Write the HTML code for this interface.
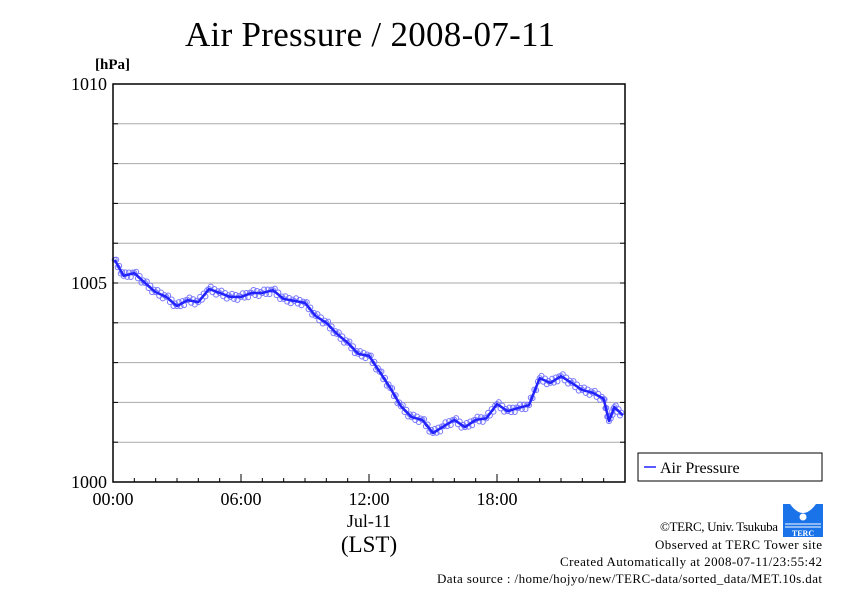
<!DOCTYPE html>
<html><head><meta charset="utf-8"><style>
body{margin:0;background:#fff;}
svg text{font-family:"Liberation Serif",serif;fill:#000;}
</style></head><body>
<svg width="842" height="595" xmlns="http://www.w3.org/2000/svg" id="chart">
<rect width="842" height="595" fill="#fff"/>
<text x="370" y="46" font-size="35" text-anchor="middle" textLength="370">Air Pressure / 2008-07-11</text>
<text x="95" y="69" font-size="15" font-weight="bold">[hPa]</text>
<g id="grid"></g>
<g id="yticks"></g>
<g id="xticks"></g>
<g id="series"></g>
<rect x="113" y="84" width="512" height="398" fill="none" stroke="#000" stroke-width="1.5"/>
<text x="369" y="527" font-size="18" text-anchor="middle">Jul-11</text>
<text x="369" y="552" font-size="23" text-anchor="middle">(LST)</text>
<g>
<rect x="638" y="453" width="184" height="28" fill="#fff" stroke="#000" stroke-width="1"/>
<line x1="644" y1="467" x2="656" y2="467" stroke="#22f" stroke-width="1.5"/>
<text x="660" y="473" font-size="16">Air Pressure</text>
</g>
<g>
<path d="M783 504 h40 v33 h-40 z" fill="#1a73e8"/>
<path d="M790 504 q13 18 26 0 z" fill="#fff"/>
<circle cx="803" cy="517" r="3.5" fill="#fff"/>
<line x1="785" y1="524" x2="821" y2="524" stroke="#fff"/>
<line x1="785" y1="527" x2="821" y2="527" stroke="#fff"/>
<text x="803" y="536" font-size="8" text-anchor="middle" style="fill:#fff;font-weight:bold">TERC</text>
</g>
<g font-size="13" text-anchor="end">
<text x="778" y="531" textLength="118">©TERC, Univ. Tsukuba</text>
<text x="822" y="549" textLength="167">Observed at TERC Tower site</text>
<text x="822" y="566" textLength="262">Created Automatically at 2008-07-11/23:55:42</text>
<text x="822" y="583" textLength="385">Data source : /home/hojyo/new/TERC-data/sorted_data/MET.10s.dat</text>
</g>
</svg>
<script>
const hours=[0.08,0.5,1,1.5,2,2.5,3,3.5,4,4.5,5,5.5,6,6.5,7,7.5,8,8.5,9,9.5,10,10.5,11,11.5,12,12.5,13,13.5,14,14.5,15,15.5,16,16.5,17,17.5,18,18.5,19,19.5,20,20.5,21,21.5,22,22.5,23,23.25,23.5,23.9];
const pressure=[1005.58,1005.18,1005.25,1005.0,1004.77,1004.65,1004.42,1004.57,1004.52,1004.85,1004.75,1004.65,1004.65,1004.75,1004.75,1004.82,1004.6,1004.55,1004.5,1004.17,1004.0,1003.72,1003.5,1003.22,1003.17,1002.77,1002.36,1001.9,1001.63,1001.56,1001.23,1001.4,1001.56,1001.38,1001.56,1001.6,1001.96,1001.78,1001.86,1001.93,1002.61,1002.49,1002.66,1002.49,1002.31,1002.24,1002.09,1001.53,1001.88,1001.68];
const yTicks=[1000,1005,1010];
const xTickHours=[0,6,12,18];
const xTickLabels=["00:00","06:00","12:00","18:00"];
const NS="http://www.w3.org/2000/svg";
const X0=113,X1=625,Y0=482,Y1=84;
function xs(h){return X0+(X1-X0)*h/24;}
function ys(v){return Y0-(Y0-Y1)*(v-1000)/10;}
function mk(t,a,p){const e=document.createElementNS(NS,t);for(const k in a)e.setAttribute(k,a[k]);p.appendChild(e);return e;}
const grid=document.getElementById('grid'),yt=document.getElementById('yticks'),xt=document.getElementById('xticks'),ser=document.getElementById('series');
for(let v=1001;v<1010;v++){
 const l=mk('line',{x1:X0,x2:X1,y1:ys(v),y2:ys(v),stroke:'#aaa','stroke-width':1},grid);
 
 
 mk('line',{x1:X0,x2:X0+5,y1:ys(v),y2:ys(v),stroke:'#000'},yt);
 mk('line',{x1:X1-5,x2:X1,y1:ys(v),y2:ys(v),stroke:'#000'},yt);
}
yTicks.forEach(v=>{
 const t=mk('text',{x:X0-6,y:ys(v)+6,'font-size':18,'text-anchor':'end'},yt);t.textContent=v;
 
 
});
for(let h=1;h<24;h++){mk('line',{x1:xs(h),x2:xs(h),y1:Y0,y2:Y0-(h%6?4:8),stroke:'#000'},xt);}
xTickHours.forEach((h,i)=>{
 const t=mk('text',{x:xs(h),y:505,'font-size':18,'text-anchor':'middle'},xt);t.textContent=xTickLabels[i];
 
 
});
const offs=[0,-3,2,-2,3,-1];
for(let i=0;i<hours.length-1;i++){
 for(let k=0;k<6;k++){
  const h=hours[i]+(hours[i+1]-hours[i])*k/6, v=pressure[i]+(pressure[i+1]-pressure[i])*k/6;
  mk('circle',{cx:xs(h),cy:ys(v)+offs[k],r:2.5,fill:'none',stroke:'#77f','stroke-width':1},ser);
 }
}
const pts=hours.map((h,i)=>xs(h)+','+ys(pressure[i])).join(' ');
const pl=mk('polyline',{points:pts,fill:'none',stroke:'#22f','stroke-width':2.5,'stroke-linejoin':'round'},ser);


</script>
</body></html>
